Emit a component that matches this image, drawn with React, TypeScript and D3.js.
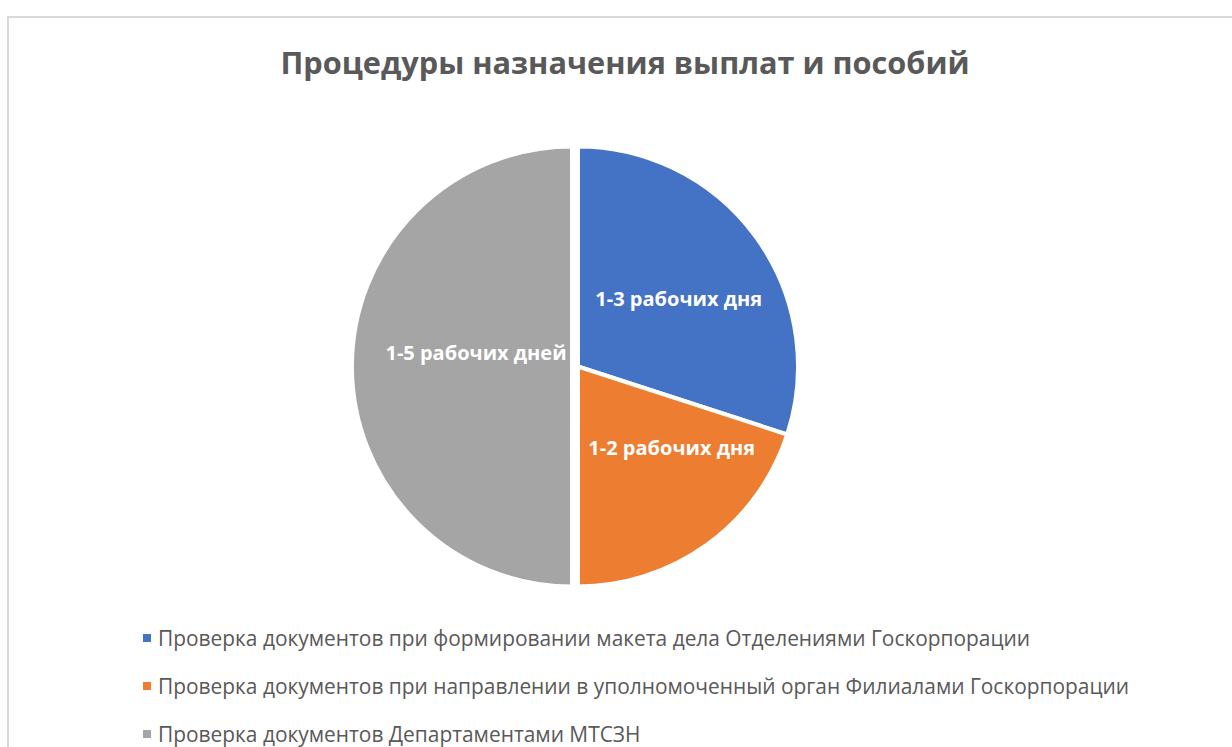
import * as d3 from "d3";

const categories = [
  "Проверка документов при формировании макета дела Отделениями Госкорпорации",
  "Проверка документов при направлении в уполномоченный орган Филиалами Госкорпорации",
  "Проверка документов Департаментами МТСЗН",
];
const values = [3, 2, 5];
const labels = ["1-3 рабочих дня", "1-2 рабочих дня", "1-5 рабочих дней"];
const colors = ["#4472C4", "#ED7D31", "#A5A5A5"];

const width = 1232;
const height = 747;
const cx = 575;
const cy = 366.5;
const radius = 220;
const font = "'Open Sans', 'DejaVu Sans', sans-serif";

// small nudges so the data labels sit where Excel put them
const labelNudge: [number, number][] = [
  [2, 4],
  [22, -18],
  [26, -14],
];

export default function App() {
  const pie = d3
    .pie<number>()
    .sort(null)
    .value((d) => d);
  const arcs = pie(values);

  const arc = d3
    .arc<d3.PieArcDatum<number>>()
    .innerRadius(0)
    .outerRadius(radius);
  const labelArc = d3
    .arc<d3.PieArcDatum<number>>()
    .innerRadius(122)
    .outerRadius(122);

  return (
    <svg
      width={width}
      height={height}
      style={{ position: "absolute", left: 0, top: 0, background: "#fff" }}
    >
      <rect x={8} y={17} width={1234} height={760} fill="#fff" stroke="#d9d9d9" strokeWidth={2} />
      <text
        x={625}
        y={74}
        textAnchor="middle"
        fontFamily={font}
        fontWeight={700}
        fontSize={30.7}
        fill="#595959"
      >
        Процедуры назначения выплат и пособий
      </text>
      {arcs.map((a, i) => {
        const mid = (a.startAngle + a.endAngle) / 2;
        const shift = Math.sin(mid) >= 0 ? 3 : -3;
        const [lx, ly] = labelArc.centroid(a);
        return (
          <g key={i} transform={`translate(${cx + shift},${cy})`}>
            <path d={arc(a) ?? ""} fill={colors[i]} stroke="#fff" strokeWidth={4} />
            <text
              x={lx + labelNudge[i][0]}
              y={ly + labelNudge[i][1]}
              textAnchor="middle"
              dominantBaseline="central"
              fontFamily={font}
              fontWeight={700}
              fontSize={20}
              fill="#fff"
            >
              {labels[i]}
            </text>
          </g>
        );
      })}
      {categories.map((c, i) => (
        <g key={c} transform={`translate(143,${638 + i * 48})`}>
          <rect x={0} y={-4} width={8} height={8} fill={colors[i]} />
          <text
            x={15}
            y={0}
            dominantBaseline="central"
            fontFamily={font}
            fontSize={20.9}
            fill="#595959"
          >
            {c}
          </text>
        </g>
      ))}
    </svg>
  );
}
